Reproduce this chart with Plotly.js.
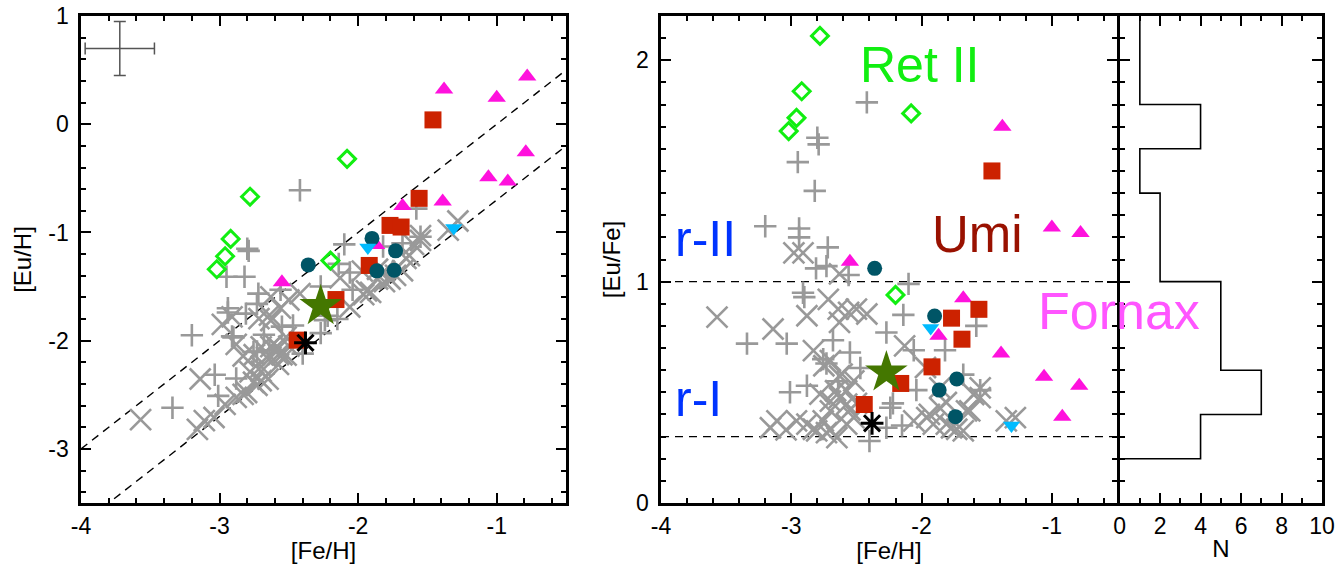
<!DOCTYPE html>
<html>
<head>
<meta charset="utf-8">
<script src="https://cdn.plot.ly/plotly-3.0.1.min.js"></script>
<style>
  html, body { margin: 0; padding: 0; background: #fff; }
  #chart { width: 1337px; height: 564px; }
</style>
</head>
<body>
<div id="chart"></div>
<script>
// ---- Halo comparison stars: [Fe/H] and [Eu/Fe] ----
const haloPlusFeH = [-2.42, -2.80, -2.79, -2.95, -2.82, -3.20, -2.94, -2.94, -2.72, -2.81,
  -2.73, -2.56, -2.10, -2.91, -2.90, -2.14, -2.27, -3.34, -3.035, -2.68,
  -2.55, -2.755, -2.73, -2.06, -1.82, -1.58, -1.68, -3.01, -2.88, -2.47,
  -2.24, -2.15, -2.40, -2.04, -1.55, -2.22, -2.64, -2.27];
const haloPlusEuFe = [1.81, 1.65, 1.62, 1.54, 1.41, 1.25, 1.24, 1.20, 1.155, 1.06,
  1.07, 1.03, 0.99, 0.95, 0.93, 0.85, 0.77, 0.72, 0.72, 0.735,
  0.68, 0.65, 0.63, 0.69, 0.69, 0.80, 0.58, 0.50, 0.53, 0.61,
  0.43, 0.35, 0.28, 0.51, 0.51, 0.45, 0.55, 0.34];

const haloCrossFeH = [-2.98, -2.91, -2.63, -3.57, -3.14, -2.88, -2.716, -2.64, -2.56, -2.50,
  -2.42, -2.63, -2.83, -2.70, -2.61, -2.75, -2.78, -2.70, -2.63, -2.575,
  -2.66, -2.575, -2.52, -2.63, -3.11, -3.16, -2.96, -2.88, -2.805, -2.73,
  -2.65, -2.575, -2.52, -2.83, -2.755, -2.70, -2.70, -3.04, -2.13, -1.97,
  -2.06, -1.96, -1.91, -1.86, -1.81, -1.73, -1.655, -1.60, -1.55, -1.35,
  -1.28, -1.94, -1.77, -1.68, -1.55, -1.63, -1.81, -1.86, -2.55, -2.50];
const haloCrossEuFe = [1.13, 1.13, 1.035, 0.84, 0.786, 0.846, 0.92, 0.876, 0.861, 0.876,
  0.854, 0.816, 0.688, 0.643, 0.582, 0.62, 0.492, 0.46, 0.476, 0.447,
  0.507, 0.507, 0.552, 0.575, 0.371, 0.34, 0.371, 0.356, 0.326, 0.318,
  0.295, 0.356, 0.386, 0.333, 0.371, 0.416, 0.33, 0.33, 0.71, 0.612,
  0.371, 0.386, 0.356, 0.43, 0.356, 0.333, 0.416, 0.49, 0.52, 0.371,
  0.386, 0.40, 0.34, 0.326, 0.476, 0.416, 0.454, 0.52, 0.42, 0.45];

// ---- Dwarf-galaxy stars ----
const retFeH = [-2.78, -2.92, -2.96, -3.02, -2.08, -2.20];
const retEuFe = [2.11, 1.86, 1.74, 1.68, 1.76, 0.94];

const fnxFeH = [-2.55, -1.38, -1.00, -0.78, -1.68, -1.87, -1.39, -1.06, -0.79, -0.92];
const fnxEuFe = [1.09, 1.70, 1.245, 1.22, 0.925, 0.755, 0.675, 0.57, 0.53, 0.39];

const umiFeH = [-1.46, -1.56, -1.77, -1.69, -1.92, -2.16, -2.44];
const umiEuFe = [1.50, 0.875, 0.835, 0.74, 0.615, 0.54, 0.445];

const circFeH = [-2.36, -1.90, -1.73, -1.865, -1.74];
const circEuFe = [1.06, 0.845, 0.56, 0.51, 0.39];

const downFeH = [-1.93, -1.31];
const downEuFe = [0.79, 0.35];

const starFeH = [-2.27];
const starEuFe = [0.59];

const astFeH = [-2.38];
const astEuFe = [0.36];

// typical uncertainty shown in the corner of the left panel
const errCenterFeH = [-3.72];
const errCenterEuH = [0.70];
const errSize = 0.25;

// r-I / r-II boundaries in [Eu/Fe]
const rBounds = [1.0, 0.3];

// histogram bin edges in [Eu/Fe]
const histEdges = [0.2, 0.4, 0.6, 0.8, 1.0, 1.2, 1.4, 1.6, 1.8, 2.0, 2.2];

// ---------------------------------------------------------------
const W = 1337, H = 564;
const px = v => v / W;
const py = v => 1 - v / H;

const toEuH = (feh, eufe) => feh.map((f, i) => +(f + eufe[i]).toFixed(3));

const FONT = 'Liberation Sans, Arial, Helvetica, sans-serif';
const GRAY = '#999999';

function groups() {
  return [
    { feh: haloCrossFeH, eufe: haloCrossEuFe, marker: { symbol: 'x-thin-open', size: 21, color: GRAY, line: { color: GRAY, width: 2.6 } } },
    { feh: haloPlusFeH, eufe: haloPlusEuFe, marker: { symbol: 'cross-thin-open', size: 16, color: GRAY, line: { color: GRAY, width: 2.6 } } },
    { feh: retFeH, eufe: retEuFe, marker: { symbol: 'diamond-open', size: 13, color: '#11ee11', line: { color: '#11ee11', width: 3 } } },
    { feh: fnxFeH, eufe: fnxEuFe, marker: { symbol: 'triangle-up', size: 16, color: '#ff11dd', line: { width: 0 } } },
    { feh: umiFeH, eufe: umiEuFe, marker: { symbol: 'square', size: 17, color: '#cc2200', line: { width: 0 } } },
    { feh: circFeH, eufe: circEuFe, marker: { symbol: 'circle', size: 15, color: '#005566', line: { width: 0 } } },
    { feh: downFeH, eufe: downEuFe, marker: { symbol: 'triangle-down', size: 15, color: '#00bbff', line: { width: 0 } } },
    { feh: starFeH, eufe: starEuFe, marker: { symbol: 'star', size: 32, color: '#447700', line: { width: 0 } } },
    { feh: astFeH, eufe: astEuFe, marker: { symbol: 'asterisk-open', size: 19, color: '#000000', line: { color: '#000000', width: 3 } } }
  ];
}

const traces = [];

// dashed reference lines, left panel: [Eu/H] = [Fe/H] + bound
const lineX = [-4, -0.5];
rBounds.forEach(b => {
  traces.push({
    x: lineX, y: lineX.map(v => v + b), xaxis: 'x', yaxis: 'y',
    mode: 'lines', line: { color: '#000', width: 1.4, dash: '8px,6px' },
    hoverinfo: 'skip', showlegend: false
  });
});

groups().forEach(g => {
  traces.push({
    x: g.feh, y: toEuH(g.feh, g.eufe), xaxis: 'x', yaxis: 'y',
    mode: 'markers', marker: g.marker, showlegend: false, cliponaxis: true
  });
});

// error bar in the upper-left corner
traces.push({
  x: errCenterFeH, y: errCenterEuH, xaxis: 'x', yaxis: 'y', mode: 'markers',
  marker: { size: 1, color: 'rgba(0,0,0,0)' },
  error_x: { type: 'constant', value: errSize, color: '#555', thickness: 1.5, width: 6 },
  error_y: { type: 'constant', value: errSize, color: '#555', thickness: 1.5, width: 6 },
  showlegend: false, hoverinfo: 'skip'
});

// right panel
groups().forEach(g => {
  traces.push({
    x: g.feh, y: g.eufe, xaxis: 'x2', yaxis: 'y2',
    mode: 'markers', marker: g.marker, showlegend: false, cliponaxis: true
  });
});

// histogram of dwarf-galaxy [Eu/Fe]
const dwarfEuFe = [].concat(retEuFe, fnxEuFe, umiEuFe, circEuFe, downEuFe, starEuFe, astEuFe);
const counts = histEdges.slice(0, -1).map((lo, i) =>
  dwarfEuFe.filter(v => v >= lo && v < histEdges[i + 1]).length);
const stepX = [0], stepY = [histEdges[0]];
counts.forEach((c, i) => {
  stepX.push(c, c);
  stepY.push(histEdges[i], histEdges[i + 1]);
});
traces.push({
  x: stepX, y: stepY, xaxis: 'x3', yaxis: 'y3', mode: 'lines',
  line: { color: '#000', width: 1.6 }, showlegend: false, hoverinfo: 'skip'
});

const tickFont = { family: FONT, size: 23, color: '#000' };
const titleFont = { family: FONT, size: 24, color: '#000' };

const LW = 2.6;
function axis(extra) {
  return Object.assign({
    showline: true, mirror: 'allticks', linecolor: '#000', linewidth: LW,
    ticks: 'inside', ticklen: 10, tickwidth: 2, tickcolor: '#000',
    zeroline: false, showgrid: false, fixedrange: true,
    tickfont: tickFont
  }, extra);
}
const minorTicks = d => ({ ticks: 'inside', ticklen: 5, tickwidth: 2, tickcolor: '#000', dtick: d, tick0: 0, showgrid: false });

const yDom = [(H - 503) / H, (H - 16) / H];

const layout = {
  width: W, height: H,
  margin: { l: 0, r: 0, t: 0, b: 0 },
  paper_bgcolor: '#fff', plot_bgcolor: '#fff',
  showlegend: false,
  xaxis: axis({
    domain: [px(81), px(566)], range: [-4, -0.5], anchor: 'y',
    tickmode: 'array', tickvals: [-4, -3, -2, -1], ticktext: ['-4', '-3', '-2', '-1'],
    minor: minorTicks(0.2), ticklabelstandoff: 1,
    title: { text: '[Fe/H]', font: titleFont, standoff: 2 }
  }),
  yaxis: axis({
    domain: yDom, range: [-3.5, 1], anchor: 'x',
    tickmode: 'array', tickvals: [-3, -2, -1, 0, 1], ticktext: ['-3', '-2', '-1', '0', '1'],
    minor: minorTicks(0.2), ticklabelstandoff: 5,
    title: { text: '[Eu/H]', font: titleFont, standoff: 10 }
  }),
  xaxis2: axis({
    domain: [px(661), px(1117)], range: [-4, -0.5], anchor: 'y2',
    tickmode: 'array', tickvals: [-4, -3, -2, -1], ticktext: ['-4', '-3', '-2', '-1'],
    minor: minorTicks(0.2), ticklabelstandoff: 1,
    title: { text: '[Fe/H]', font: titleFont, standoff: 2 }
  }),
  yaxis2: axis({
    domain: yDom, range: [0, 2.2], anchor: 'x2',
    tickmode: 'array', tickvals: [0, 1, 2], ticktext: ['0', '1', '2'],
    minor: minorTicks(0.1), ticklabelstandoff: 5,
    title: { text: '[Eu/Fe]', font: titleFont, standoff: 9 }
  }),
  xaxis3: axis({
    domain: [px(1117 + LW), px(1322)], range: [0, 10.0001], anchor: 'y3',
    tickmode: 'array', tickvals: [0, 2, 4, 6, 8, 10], ticktext: ['0', '2', '4', '6', '8', '10'],
    minor: minorTicks(1), ticklabelstandoff: 1, ticklabeloverflow: 'allow',
    title: { text: 'N', font: titleFont, standoff: 2 }
  }),
  yaxis3: axis({
    domain: yDom, range: [0, 2.2], anchor: 'x3',
    tickmode: 'array', tickvals: [0, 1, 2], showticklabels: false,
    minor: minorTicks(0.1)
  }),
  shapes: rBounds.map(b => ({
    type: 'line', xref: 'x2', yref: 'y2', x0: -4, x1: -0.5, y0: b, y1: b,
    line: { color: '#000', width: 1.4, dash: '8px,6px' }, layer: 'below'
  })),
  annotations: [
    { text: 'Ret II', x: px(858), y: py(65), color: '#11ee11', size: 50 },
    { text: 'Umi', x: px(930), y: py(234), color: '#991100', size: 51 },
    { text: 'Fornax', x: px(1036), y: py(311), color: '#ff55ff', size: 52 },
    { text: 'r-II', x: px(673), y: py(239), color: '#0033ff', size: 50 },
    { text: 'r-I', x: px(673), y: py(399), color: '#0033ff', size: 50 }
  ].map(a => ({
    text: a.text, x: a.x, y: a.y, xref: 'paper', yref: 'paper',
    xanchor: 'left', yanchor: 'middle', showarrow: false,
    font: { family: FONT, size: a.size, color: a.color }
  }))
};

Plotly.newPlot('chart', traces, layout, { staticPlot: true, displayModeBar: false });
</script>
</body>
</html>
